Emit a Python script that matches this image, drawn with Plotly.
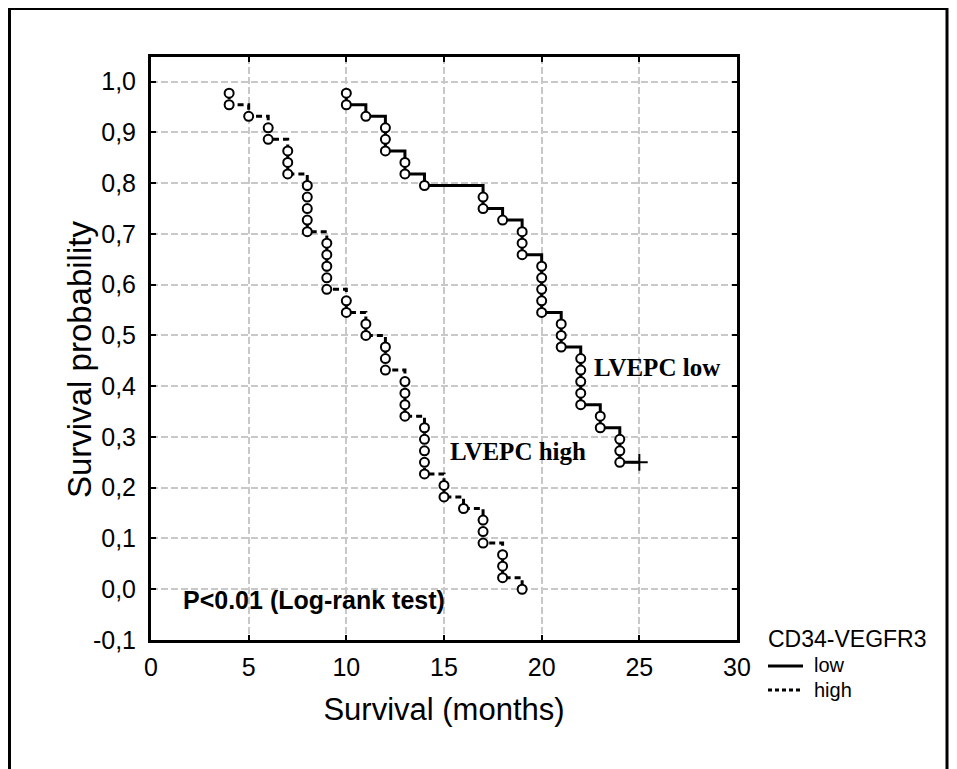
import plotly.graph_objects as go

# ---- data ----
# CD34-VEGFR3 high group (dashed), 44 patients, no censoring
high_times = [4, 5, 6, 7, 8, 9, 10, 11, 12, 13, 14, 15, 16, 17, 18, 19]
high_deaths = [2, 1, 2, 3, 5, 5, 2, 2, 3, 4, 5, 2, 1, 3, 3, 1]
high_n = 44

# CD34-VEGFR3 low group (solid), 44 patients, rest censored at 25 months
low_times = [10, 11, 12, 13, 14, 17, 18, 19, 20, 21, 22, 23, 24]
low_deaths = [2, 1, 3, 2, 1, 2, 1, 3, 5, 3, 5, 2, 3]
low_n = 44
low_censor_time = 25

x_ticks = [0, 5, 10, 15, 20, 25, 30]
y_ticks = [-0.1, 0.0, 0.1, 0.2, 0.3, 0.4, 0.5, 0.6, 0.7, 0.8, 0.9, 1.0]
y_ticktext = ["-0,1", "0,0", "0,1", "0,2", "0,3", "0,4", "0,5", "0,6", "0,7", "0,8", "0,9", "1,0"]


def km_points(times, deaths, n):
    xs, ys = [], []
    s = 1.0
    at_risk = n
    for t, d in zip(times, deaths):
        s0 = s
        for k in range(1, d + 1):
            xs.append(t)
            ys.append(s0 * (1 - k / at_risk))
        s = s0 * (1 - d / at_risk)
        at_risk -= d
    return xs, ys, s


hx, hy, _ = km_points(high_times, high_deaths, high_n)
lx, ly, ls = km_points(low_times, low_deaths, low_n)

fig = go.Figure()

marker_style = dict(symbol="circle", size=9, color="white", line=dict(color="black", width=2))

fig.add_trace(go.Scatter(x=hx, y=hy, mode="lines", line=dict(color="black", width=3, dash="6px,4px", shape="hv"),
                         showlegend=False, hoverinfo="skip"))
fig.add_trace(go.Scatter(x=hx, y=hy, mode="markers", marker=marker_style, name="high", showlegend=False))

fig.add_trace(go.Scatter(x=lx + [low_censor_time], y=ly + [ls], mode="lines",
                         line=dict(color="black", width=3, shape="hv"), showlegend=False, hoverinfo="skip"))
fig.add_trace(go.Scatter(x=lx, y=ly, mode="markers", marker=marker_style, name="low", showlegend=False))
fig.add_trace(go.Scatter(x=[low_censor_time], y=[ls], mode="markers",
                         marker=dict(symbol="cross-thin", size=12, line=dict(color="black", width=2)),
                         showlegend=False, name="censored"))

# page body has an 8px margin, so the figure is drawn 8px in from the window corner
OFF = 8
W, H = 957 - OFF, 769 - OFF
L, T = 151 - OFF, 57 - OFF
R = W - (737 - OFF)
B = H - (640 - OFF)
pw, ph = W - L - R, H - T - B


def px(sx):
    return (sx - OFF - L) / pw


def py(sy):
    return (H - B - (sy - OFF)) / ph


FONT = "Liberation Sans, Arial"
SERIF = "Liberation Serif, Times New Roman"

axis_common = dict(showline=True, linecolor="black", linewidth=3, mirror="ticks",
                   ticks="inside", ticklen=5, tickwidth=2, tickcolor="black",
                   showgrid=True, gridcolor="#c8c8c8", gridwidth=2, griddash="7px,3px",
                   zeroline=False, tickfont=dict(family=FONT, size=25, color="black"))

fig.update_xaxes(range=[0, 30], tickvals=x_ticks, ticktext=[str(v) for v in x_ticks],
                 title=dict(text="Survival (months)", font=dict(family=FONT, size=31, color="black"),
                            standoff=19),
                 ticklabelstandoff=3, **axis_common)
fig.update_yaxes(range=[-0.1, 1.0486], tickvals=y_ticks, ticktext=y_ticktext,
                 ticklabelstandoff=7, **axis_common)

annos = [
    dict(x=px(79), y=py(360), xref="paper", yref="paper", text="Survival probability", textangle=-90,
         showarrow=False, xanchor="center", yanchor="middle", font=dict(family=FONT, size=33, color="black")),
    dict(x=22.57, y=0.436, xref="x", yref="y", text="<b>LVEPC low</b>", showarrow=False, xanchor="left",
         yanchor="middle", font=dict(family=SERIF, size=25, color="black")),
    dict(x=15.23, y=0.272, xref="x", yref="y", text="<b>LVEPC high</b>", showarrow=False, xanchor="left",
         yanchor="middle", font=dict(family=SERIF, size=25, color="black")),
    dict(x=1.51, y=-0.022, xref="x", yref="y", text="<b>P&lt;0.01 (Log-rank test)</b>", showarrow=False,
         xanchor="left", yanchor="middle", font=dict(family=FONT, size=25, color="black")),
    dict(x=px(766), y=py(639), xref="paper", yref="paper", text="CD34-VEGFR3", showarrow=False,
         xanchor="left", yanchor="middle", font=dict(family=FONT, size=23, color="black")),
    dict(x=px(812), y=py(665), xref="paper", yref="paper", text="low", showarrow=False,
         xanchor="left", yanchor="middle", font=dict(family=FONT, size=20, color="black")),
    dict(x=px(812), y=py(690), xref="paper", yref="paper", text="high", showarrow=False,
         xanchor="left", yanchor="middle", font=dict(family=FONT, size=20, color="black")),
]

shapes = [
    dict(type="rect", xref="paper", yref="paper", x0=px(9.5), x1=px(947), y0=py(790), y1=py(8.5),
         line=dict(color="black", width=3), fillcolor="rgba(0,0,0,0)", layer="above"),
    dict(type="line", xref="paper", yref="paper", x0=px(768), x1=px(803), y0=py(666), y1=py(666),
         line=dict(color="black", width=3)),
    dict(type="line", xref="paper", yref="paper", x0=px(768), x1=px(803), y0=py(690), y1=py(690),
         line=dict(color="black", width=3, dash="4px,3px")),
]

fig.update_layout(width=W, height=H, margin=dict(l=L, r=R, t=T, b=B, autoexpand=False),
                  paper_bgcolor="white", plot_bgcolor="white", annotations=annos, shapes=shapes,
                  showlegend=False)

fig.write_html("out.html")
